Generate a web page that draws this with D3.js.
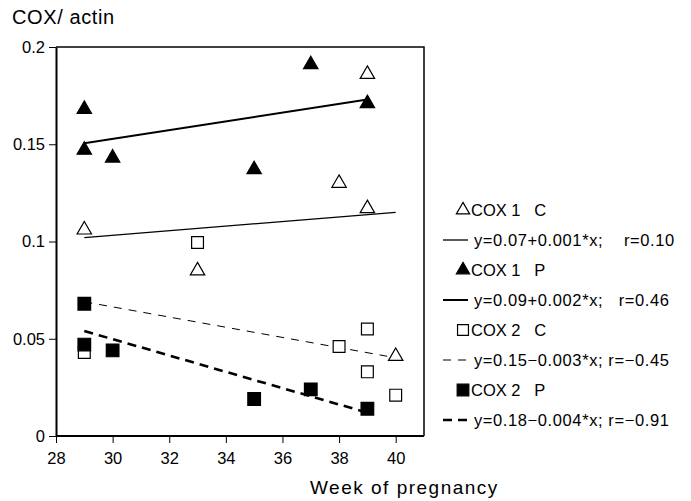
<!DOCTYPE html>
<meta charset="utf-8">
<style>
body { margin: 0; background: #fff; }
text { font-family: "Liberation Sans", Arial, sans-serif; fill: #000; white-space: pre; }
.axis path, .axis line { stroke: #000; }
.axis text { font-size: 16.5px; }
</style>
<svg width="691" height="501"></svg>
<script src="https://cdn.jsdelivr.net/npm/d3@7"></script>
<script>
// weeks and values
var cox1C = [[29, 0.106], [33, 0.085], [38, 0.130], [39, 0.186], [39, 0.117], [40, 0.041]];
var cox1P = [[29, 0.168], [29, 0.147], [30, 0.143], [35, 0.137], [37, 0.191], [39, 0.171]];
var cox2C = [[29, 0.043], [33, 0.0995], [38, 0.046], [39, 0.055], [39, 0.033], [40, 0.021]];
var cox2P = [[29, 0.068], [29, 0.047], [30, 0.044], [35, 0.019], [37, 0.024], [39, 0.014]];

// regression lines, end points
var fit1C = [[29, 0.102], [40, 0.115]];
var fit1P = [[29, 0.1505], [39, 0.173]];
var fit2C = [[29, 0.069], [39.7, 0.041]];
var fit2P = [[29, 0.054], [39, 0.012]];

var xTicks = [28, 30, 32, 34, 36, 38, 40];
var yTicks = [0, 0.05, 0.1, 0.15, 0.2];

var legendItems = [
  { label: "COX 1   C", fit: "y=0.07+0.001*x;    r=0.10" },
  { label: "COX 1   P", fit: "y=0.09+0.002*x;   r=0.46" },
  { label: "COX 2   C", fit: "y=0.15\u22120.003*x; r=\u22120.45" },
  { label: "COX 2   P", fit: "y=0.18\u22120.004*x; r=\u22120.91" }
];

var svg = d3.select("svg");
var x = d3.scaleLinear().domain([28, 41]).range([56, 424]);
var y = d3.scaleLinear().domain([0, 0.2]).range([436, 47]);

var series = [
  { pts: cox1C, fit: fit1C, shape: d3.symbolTriangle, fill: "#fff", size: 90, line: { w: 1.3, dash: null } },
  { pts: cox1P, fit: fit1P, shape: d3.symbolTriangle, fill: "#000", size: 90, line: { w: 2, dash: null } },
  { pts: cox2C, fit: fit2C, shape: d3.symbolSquare, fill: "#fff", size: 140, line: { w: 1, dash: "8,7" } },
  { pts: cox2P, fit: fit2P, shape: d3.symbolSquare, fill: "#000", size: 160, line: { w: 2.6, dash: "9,6" } }
];

// frame
svg.append("path")
  .attr("d", "M" + x(28) + "," + y(0.2) + "H" + x(41) + "V" + y(0))
  .attr("fill", "none").attr("stroke", "#000").attr("stroke-width", 1.5);

svg.append("g").attr("class", "axis")
  .attr("transform", "translate(0," + y(0) + ")")
  .call(d3.axisBottom(x).tickValues(xTicks).tickSize(7).tickSizeOuter(0).tickPadding(9))
  .call(g => g.select(".domain").attr("stroke-width", 2).attr("d", "M" + x(28) + ",0H" + x(41)));

svg.append("g").attr("class", "axis")
  .attr("transform", "translate(" + x(28) + ",0)")
  .call(d3.axisLeft(y).tickValues(yTicks).tickSize(7).tickSizeOuter(0).tickPadding(4)
    .tickFormat(d => d === 0 ? "0" : String(d)))
  .call(g => g.select(".domain").attr("stroke-width", 2));

var line = d3.line().x(d => x(d[0])).y(d => y(d[1]));

series.forEach(s => {
  svg.append("path").attr("d", line(s.fit))
    .attr("fill", "none").attr("stroke", "#000")
    .attr("stroke-width", s.line.w)
    .attr("stroke-dasharray", s.line.dash);
  svg.append("g").selectAll("path").data(s.pts).join("path")
    .attr("transform", d => "translate(" + x(d[0]) + "," + y(d[1]) + ")")
    .attr("d", d3.symbol().type(s.shape).size(s.size))
    .attr("fill", s.fill).attr("stroke", "#000").attr("stroke-width", 1.2);
});

// legend
var lg = svg.append("g");
legendItems.forEach((item, i) => {
  var s = series[i];
  var ym = 210 + i * 60;
  lg.append("path")
    .attr("transform", "translate(463," + ym + ")")
    .attr("d", d3.symbol().type(s.shape).size(s.size * 0.85))
    .attr("fill", s.fill).attr("stroke", "#000").attr("stroke-width", 1.2);
  lg.append("text").attr("x", 471).attr("y", ym + 6)
    .attr("font-size", 16.5).text(item.label);
  lg.append("line")
    .attr("x1", 443).attr("x2", 468).attr("y1", ym + 30).attr("y2", ym + 30)
    .attr("stroke", "#000").attr("stroke-width", s.line.w)
    .attr("stroke-dasharray", s.line.dash);
  lg.append("text").attr("x", 474).attr("y", ym + 36)
    .attr("font-size", 16.5).attr("letter-spacing", 0.6).text(item.fit);
});

svg.append("text").attr("x", 12).attr("y", 24).attr("font-size", 20)
  .attr("letter-spacing", 0.6).text("COX/ actin");
svg.append("text").attr("x", 310).attr("y", 494).attr("font-size", 19)
  .attr("letter-spacing", 1.5).text("Week of pregnancy");
</script>
